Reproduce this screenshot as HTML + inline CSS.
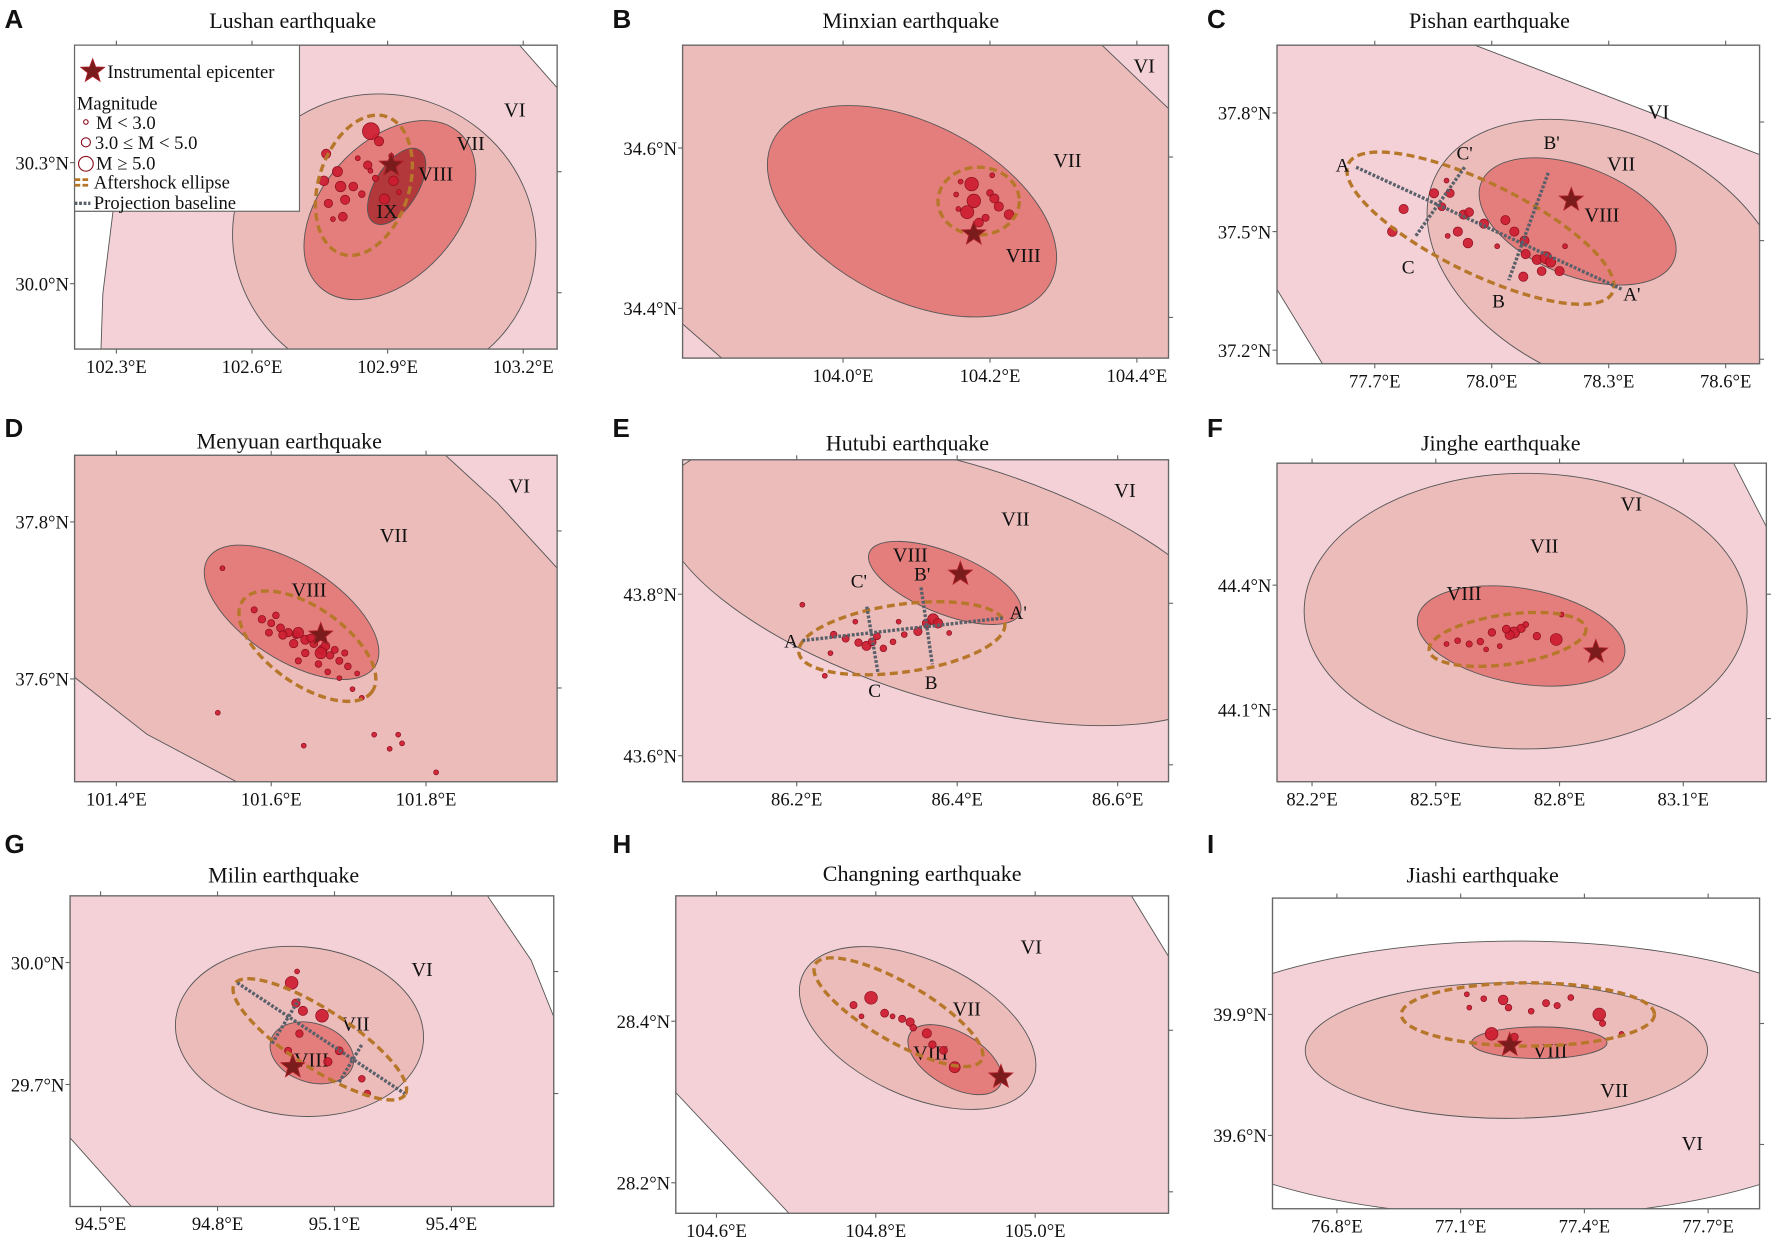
<!DOCTYPE html>
<html><head><meta charset="utf-8">
<style>
html,body{margin:0;padding:0;background:#fff;}
svg{display:block;}
text{font-family:"Liberation Serif",serif;fill:#111;}
.lbl{font-family:"Liberation Sans",sans-serif;font-weight:bold;font-size:23px;}
</style></head>
<body>
<svg id="fig" width="1772" height="1237" viewBox="0 0 1568 1095" preserveAspectRatio="none" xmlns="http://www.w3.org/2000/svg"></svg>
<script>
// ---------- data ----------
const lushanLon=[102.863,102.881,102.764,102.856,102.759,102.789,102.796,102.824,102.806,102.843,102.873,102.893,102.913,102.769,102.779,102.834,102.908,102.925,102.801,102.862];
const lushanLat=[30.378,30.353,30.322,30.294,30.255,30.278,30.241,30.241,30.208,30.222,30.261,30.210,30.255,30.199,30.160,30.311,30.317,30.227,30.166,30.280];
const lushanMag=[5.2,3.8,3.8,3.6,3.9,4.0,4.1,3.7,3.8,3.2,3.1,4.0,3.9,3.6,2.5,2.6,2.6,2.6,3.7,2.6];
const lushanStar=[102.908,30.294];

const minxianLon=[104.175,104.178,104.169,104.200,104.206,104.212,104.226,104.154,104.160,104.185,104.194,104.203,104.157];
const minxianLat=[34.555,34.534,34.520,34.544,34.537,34.527,34.517,34.542,34.558,34.507,34.513,34.566,34.524];
const minxianMag=[4.8,4.8,4.7,3.2,3.8,3.8,3.9,2.6,2.6,3.7,3.3,2.5,2.6];
const minxianStar=[104.178,34.493];

const pishanLon=[77.774,77.852,77.893,77.872,77.928,77.942,77.913,77.939,77.887,77.745,77.980,78.035,78.058,78.084,78.087,78.116,78.139,78.151,78.174,78.128,78.081,77.884,78.014,78.188];
const pishanLat=[37.557,37.597,37.597,37.563,37.543,37.549,37.500,37.471,37.489,37.500,37.520,37.529,37.500,37.477,37.443,37.429,37.434,37.423,37.400,37.400,37.386,37.629,37.463,37.463];
const pishanMag=[3.8,3.8,3.6,3.5,3.8,3.7,3.8,3.9,2.6,3.9,3.8,3.8,3.8,3.8,3.8,3.9,4.4,4.0,3.8,3.7,3.8,2.6,2.5,2.6];
const pishanStar=[78.204,37.580];

const menyuanLon=[101.588,101.600,101.612,101.622,101.632,101.644,101.655,101.666,101.676,101.688,101.699,101.711,101.578,101.606,101.629,101.651,101.670,101.682,101.635,101.661,101.615,101.688,101.705,101.717,101.644,101.673,101.695,101.597,101.664,101.635,101.531,101.642,101.733,101.764,101.769,101.753,101.813,101.537];
const menyuanLat=[37.676,37.671,37.665,37.659,37.656,37.650,37.645,37.637,37.630,37.623,37.616,37.607,37.688,37.681,37.645,37.652,37.642,37.637,37.623,37.619,37.656,37.601,37.587,37.576,37.633,37.609,37.633,37.659,37.633,37.659,37.557,37.515,37.529,37.529,37.518,37.511,37.481,37.741];
const menyuanMag=[3.4,3.3,3.5,3.6,3.4,3.8,3.5,3.9,3.4,3.3,3.2,2.9,3.1,3.2,3.6,3.5,3.7,3.3,3.1,3.2,3.6,2.8,2.7,2.8,3.4,3.0,3.1,3.3,4.3,4.1,2.7,2.6,2.7,2.6,2.6,2.6,2.6,2.6];
const menyuanStar=[101.664,37.656];

const hutubiLon=[86.246,86.261,86.277,86.287,86.294,86.300,86.308,86.320,86.351,86.362,86.370,86.376,86.334,86.242,86.235,86.207,86.273,86.327,86.390];
const hutubiLat=[43.750,43.745,43.740,43.736,43.741,43.748,43.733,43.741,43.754,43.764,43.769,43.764,43.750,43.727,43.699,43.787,43.766,43.766,43.752];
const hutubiMag=[3.2,3.3,3.4,3.8,3.5,3.3,3.2,3.0,3.6,3.7,4.2,3.9,3.0,2.7,2.6,2.6,2.7,2.7,2.6];
const hutubiStar=[86.404,43.825];

const jingheLon=[82.690,82.679,82.707,82.671,82.636,82.608,82.581,82.553,82.526,82.745,82.792,82.805,82.718,82.655,82.622];
const jingheLat=[44.286,44.280,44.296,44.294,44.286,44.264,44.258,44.266,44.258,44.277,44.269,44.329,44.305,44.253,44.245];
const jingheMag=[4.2,3.8,3.6,3.5,3.4,3.2,3.1,3.0,2.8,3.4,4.4,2.7,3.0,2.8,2.7];
const jingheStar=[82.888,44.239];

const milinLon=[94.990,95.068,95.001,95.019,95.010,95.112,95.083,94.981,95.170,95.184,95.004];
const milinLat=[29.950,29.869,29.900,29.881,29.825,29.783,29.756,29.783,29.714,29.678,29.978];
const milinMag=[4.6,4.6,3.6,3.8,3.4,3.5,3.6,3.3,3.2,3.2,2.6];
const milinStar=[94.993,29.744];

const changningLon=[104.794,104.772,104.811,104.833,104.843,104.864,104.871,104.885,104.899,104.847,104.821,104.782];
const changningLat=[28.429,28.420,28.410,28.403,28.399,28.385,28.371,28.364,28.343,28.392,28.406,28.406];
const changningMag=[4.6,3.3,3.5,3.3,3.6,3.8,3.4,3.5,4.2,3.2,2.8,2.7];
const changningStar=[104.957,28.331];

const jiashiLon=[77.175,77.230,77.115,77.156,77.203,77.216,77.271,77.307,77.334,77.436,77.444,77.490,77.121,77.367];
const jiashiLat=[39.852,39.844,39.950,39.939,39.936,39.917,39.908,39.928,39.922,39.900,39.878,39.852,39.917,39.942];
const jiashiMag=[4.6,3.5,2.8,3.0,3.9,3.2,3.0,3.3,3.1,4.6,3.1,2.7,2.8,3.0];
const jiashiStar=[77.219,39.824];

// tick values
const lushanXTicks=[102.3,102.6,102.9,103.2], lushanYTicks=[30.3,30.0];
const minxianXTicks=[104.0,104.2,104.4], minxianYTicks=[34.6,34.4];
const pishanXTicks=[77.7,78.0,78.3,78.6], pishanYTicks=[37.8,37.5,37.2];
const menyuanXTicks=[101.4,101.6,101.8], menyuanYTicks=[37.8,37.6];
const hutubiXTicks=[86.2,86.4,86.6], hutubiYTicks=[43.8,43.6];
const jingheXTicks=[82.2,82.5,82.8,83.1], jingheYTicks=[44.4,44.1];
const milinXTicks=[94.5,94.8,95.1,95.4], milinYTicks=[30.0,29.7];
const changningXTicks=[104.6,104.8,105.0], changningYTicks=[28.4,28.2];
const jiashiXTicks=[76.8,77.1,77.4,77.7], jiashiYTicks=[39.9,39.6];

// ---------- drawing ----------
const NS='http://www.w3.org/2000/svg';
const svg=document.getElementById('fig');
const C={VI:'#f3d1d7',VII:'#ecbcbb',VIII:'#e47e7d',IX:'#b3383b',white:'#ffffff'};
function mk(tag,attrs,parent){const e=document.createElementNS(NS,tag);for(const k in attrs)e.setAttribute(k,attrs[k]);(parent||svg).appendChild(e);return e;}
function txt(s,x,y,attrs,parent){const t=mk('text',Object.assign({x:x,y:y},attrs||{}),parent);t.textContent=s;return t;}
function magR(m){return m<3?2.2:(m<5?2.6+(m-3)*1.9:7.5);}
function starPath(cx,cy,R){let d='';for(let i=0;i<10;i++){const r=i%2?R*0.42:R;const a=-Math.PI/2+i*Math.PI/5;d+=(i?'L':'M')+(cx+r*Math.cos(a)).toFixed(1)+','+(cy+r*Math.sin(a)).toFixed(1);}return d+'Z';}

let pid=0;
function panel(p){
  pid++;
  const g=mk('g',{});
  
  
  const sx=v=>p.x0+(v-p.lon0)*p.kx, sy=v=>p.y0-(v-p.lat0)*p.ky;
  const b=p.box;
  const cp=mk('clipPath',{id:'clip'+pid},g);
  mk('rect',{x:b[0],y:b[1],width:b[2]-b[0],height:b[3]-b[1]},cp);
  const map=mk('g',{'clip-path':'url(#clip'+pid+')'},g);
  
  
  const bg=mk('rect',{x:b[0],y:b[1],width:b[2]-b[0],height:b[3]-b[1],fill:C[p.bg]},map);
  
  
  (p.polys||[]).forEach(q=>{
    const e=mk('polygon',{points:q.pts,fill:C[q.c],stroke:'#555','stroke-width':0.8},map);
    
    
  });
  (p.zones||[]).forEach(z=>{
    const e=mk('ellipse',{cx:z.cx,cy:z.cy,rx:z.rx,ry:z.ry,transform:'rotate('+(z.r||0)+' '+z.cx+' '+z.cy+')',fill:C[z.c],stroke:'#555','stroke-width':0.8},map);
    
    
  });
  (p.labels||[]).forEach(l=>{const t=txt(l[0],l[1],l[2],{'font-size':18},map);});
  for(let i=0;i<p.lon.length;i++){
    const c=mk('circle',{cx:sx(p.lon[i]),cy:sy(p.lat[i]),r:magR(p.mag[i]),fill:'#cc1c30',stroke:'#8a0f1e','stroke-width':0.6,'fill-opacity':0.92},map);
    
    
  }
  if(p.ell){const e=p.ell;const el=mk('ellipse',{cx:e.cx,cy:e.cy,rx:e.rx,ry:e.ry,transform:'rotate('+e.r+' '+e.cx+' '+e.cy+')',fill:'none',stroke:'#b7772a','stroke-width':3,'stroke-dasharray':'7 4'},map);
    }
  (p.lines||[]).forEach(l=>{const e=mk('line',{x1:l[0],y1:l[1],x2:l[2],y2:l[3],stroke:'#59606a','stroke-width':3,'stroke-dasharray':'2.5 1.5'},map);
    });
  (p.ptLabels||[]).forEach(l=>{const t=txt(l[0],l[1],l[2],{'font-size':17,'text-anchor':'middle'},map);});
  const st=mk('path',{d:starPath(sx(p.star[0]),sy(p.star[1]),11),fill:'#7a1b1c',stroke:'#b0202a','stroke-width':0.8},map);
  
  const fr=mk('rect',{x:b[0],y:b[1],width:b[2]-b[0],height:b[3]-b[1],fill:'none',stroke:'#666','stroke-width':1.2},g);
  
  p.xt.forEach(v=>{const x=sx(v);
    mk('line',{x1:x,y1:b[3],x2:x,y2:b[3]+4,stroke:'#666'},g);
    mk('line',{x1:x,y1:b[1],x2:x,y2:b[1]-4,stroke:'#666'},g);
    const t=txt(v.toFixed(1)+'°E',x,b[3]+21,{'font-size':16.5,'text-anchor':'middle'},g);
    });
  p.yt.forEach(v=>{const y=sy(v);
    mk('line',{x1:b[0],y1:y,x2:b[0]-4,y2:y,stroke:'#666'},g);
    mk('line',{x1:b[2],y1:y+8,x2:b[2]+4,y2:y+8,stroke:'#666'},g);
    const t=txt(v.toFixed(1)+'°N',b[0]-5,y+6,{'font-size':16.5,'text-anchor':'end'},g);
    });
  const ti=txt(p.title,p.tx,p.ty,{'font-size':19.5,'text-anchor':'middle'},g);
  
  const lb=txt(p.letter,p.lx,p.ly,{class:'lbl'},g);
  
}

panel({id:'lushan',letter:'A',lx:4,ly:25,title:'Lushan earthquake',tx:259,ty:25,box:[66,40,493,309],
  lon0:102.3,x0:103,kx:400,lat0:30.3,y0:144,ky:357,xt:lushanXTicks,yt:lushanYTicks,bg:'VI',
  polys:[{c:'white',pts:'66,320 89,320 91,260 100,187 66,187'},{c:'white',pts:'458,38 495,38 495,80'}],
  zones:[{c:'VII',cx:340,cy:212,rx:135,ry:128,r:20},{c:'VIII',cx:345,cy:186,rx:60,ry:92,r:42},{c:'IX',cx:351,cy:165,rx:19,ry:38,r:32}],
  labels:[['VI',446,103],['VII',404,133],['VIII',370,160],['IX',333,193]],
  lon:lushanLon,lat:lushanLat,mag:lushanMag,star:lushanStar,ell:{cx:322,cy:164,rx:40,ry:64,r:18}});

panel({id:'minxian',letter:'B',lx:542,ly:25,title:'Minxian earthquake',tx:806,ty:25,box:[604,40,1034,317],
  lon0:104.2,x0:876,kx:650,lat0:34.6,y0:131,ky:710,xt:minxianXTicks,yt:minxianYTicks,bg:'VII',
  polys:[{c:'VI',pts:'973,38 1036,38 1036,98'},{c:'VI',pts:'602,285 602,320 642,320'}],
  zones:[{c:'VIII',cx:807,cy:187,rx:138,ry:78,r:27}],
  labels:[['VI',1003,64],['VII',932,148],['VIII',890,232]],
  lon:minxianLon,lat:minxianLat,mag:minxianMag,star:minxianStar,ell:{cx:866,cy:178,rx:36,ry:30,r:0}});

panel({id:'pishan',letter:'C',lx:1068,ly:25,title:'Pishan earthquake',tx:1318,ty:25,box:[1130,40,1557,322],
  lon0:78.0,x0:1320,kx:345,lat0:37.5,y0:205,ky:350,xt:pishanXTicks,yt:pishanYTicks,bg:'VI',
  polys:[{c:'white',pts:'1300,38 1560,38 1560,138'},{c:'white',pts:'1128,253 1128,325 1172,325'}],
  zones:[{c:'VII',cx:1422,cy:228,rx:168,ry:110,r:25},{c:'VIII',cx:1396,cy:196,rx:92,ry:48,r:22}],
  labels:[['VI',1458,105],['VII',1422,151],['VIII',1402,196]],
  lon:pishanLon,lat:pishanLat,mag:pishanMag,star:pishanStar,ell:{cx:1310,cy:202,rx:130,ry:40,r:26},
  lines:[[1200,148,1435,256],[1296,148,1252,210],[1370,153,1335,248]],
  ptLabels:[['A',1188,152],["A'",1444,266],["B'",1373,132],['B',1326,272],["C'",1296,141],['C',1246,242]]});

panel({id:'menyuan',letter:'D',lx:4,ly:387,title:'Menyuan earthquake',tx:256,ty:397,box:[66,403,493,692],
  lon0:101.6,x0:240,kx:685,lat0:37.6,y0:601,ky:695,xt:menyuanXTicks,yt:menyuanYTicks,bg:'VII',
  polys:[{c:'VI',pts:'392,401 495,401 495,505 440,445'},{c:'VI',pts:'64,598 64,695 215,695 130,650'}],
  zones:[{c:'VIII',cx:258,cy:542,rx:88,ry:42,r:33}],
  labels:[['VI',450,436],['VII',336,480],['VIII',258,528]],
  lon:menyuanLon,lat:menyuanLat,mag:menyuanMag,star:menyuanStar,ell:{cx:272,cy:572,rx:70,ry:34,r:35}});

panel({id:'hutubi',letter:'E',lx:542,ly:387,title:'Hutubi earthquake',tx:803,ty:399,box:[604,407,1034,692],
  lon0:86.4,x0:847,kx:710,lat0:43.8,y0:526,ky:715,xt:hutubiXTicks,yt:hutubiYTicks,bg:'VI',
  zones:[{c:'VII',cx:842,cy:515,rx:268,ry:105,r:17},{c:'VIII',cx:836,cy:516,rx:72,ry:27,r:22}],
  labels:[['VI',986,440],['VII',886,465],['VIII',790,497]],
  lon:hutubiLon,lat:hutubiLat,mag:hutubiMag,star:hutubiStar,ell:{cx:798,cy:565,rx:92,ry:30,r:-8},
  lines:[[710,567,888,547],[767,537,777,596],[815,520,825,588]],
  ptLabels:[['A',700,573],["A'",901,548],['B',824,610],["B'",816,514],['C',774,617],["C'",760,520]]});

panel({id:'jinghe',letter:'F',lx:1068,ly:387,title:'Jinghe earthquake',tx:1328,ty:399,box:[1130,410,1563,692],
  lon0:82.8,x0:1380,kx:365,lat0:44.4,y0:518,ky:367,xt:jingheXTicks,yt:jingheYTicks,bg:'VI',
  polys:[{c:'white',pts:'1533,408 1566,408 1566,472'}],
  zones:[{c:'VII',cx:1350,cy:541,rx:196,ry:122,r:0},{c:'VIII',cx:1346,cy:563,rx:93,ry:42,r:10}],
  labels:[['VI',1434,452],['VII',1354,489],['VIII',1280,531]],
  lon:jingheLon,lat:jingheLat,mag:jingheMag,star:jingheStar,ell:{cx:1334,cy:566,rx:70,ry:22,r:-8}});

panel({id:'milin',letter:'G',lx:4,ly:755,title:'Milin earthquake',tx:251,ty:781,box:[62,793,490,1068],
  lon0:95.1,x0:296,kx:345,lat0:30.0,y0:852,ky:360,xt:milinXTicks,yt:milinYTicks,bg:'VI',
  polys:[{c:'white',pts:'430,791 492,791 492,905 470,850'},{c:'white',pts:'60,1005 60,1070 118,1070'}],
  zones:[{c:'VII',cx:265,cy:913,rx:110,ry:75,r:5},{c:'VIII',cx:276,cy:932,rx:38,ry:26,r:18}],
  labels:[['VI',364,864],['VII',302,912],['VIII',260,944]],
  lon:milinLon,lat:milinLat,mag:milinMag,star:milinStar,ell:{cx:283,cy:920,rx:90,ry:26,r:33},
  lines:[[210,870,358,968],[265,884,240,925],[320,925,300,958]]});

panel({id:'changning',letter:'H',lx:542,ly:755,title:'Changning earthquake',tx:816,ty:780,box:[598,793,1034,1074],
  lon0:104.8,x0:775,kx:705,lat0:28.4,y0:904,ky:715,xt:changningXTicks,yt:changningYTicks,bg:'VI',
  polys:[{c:'white',pts:'1000,791 1036,791 1036,850'},{c:'white',pts:'596,965 596,1076 700,1076'}],
  zones:[{c:'VII',cx:812,cy:910,rx:112,ry:60,r:25},{c:'VIII',cx:845,cy:938,rx:46,ry:24,r:30}],
  labels:[['VI',903,844],['VII',843,899],['VIII',808,938]],
  lon:changningLon,lat:changningLat,mag:changningMag,star:changningStar,ell:{cx:795,cy:896,rx:85,ry:26,r:30}});

panel({id:'jiashi',letter:'I',lx:1068,ly:755,title:'Jiashi earthquake',tx:1312,ty:781,box:[1126,795,1557,1070],
  lon0:77.4,x0:1402,kx:365,lat0:39.9,y0:898,ky:357,xt:jiashiXTicks,yt:jiashiYTicks,bg:'white',
  zones:[{c:'VI',cx:1342,cy:955,rx:335,ry:122,r:0},{c:'VII',cx:1333,cy:930,rx:178,ry:60,r:0},{c:'VIII',cx:1362,cy:923,rx:60,ry:14,r:0}],
  labels:[['VI',1488,1018],['VII',1416,971],['VIII',1356,936]],
  lon:jiashiLon,lat:jiashiLat,mag:jiashiMag,star:jiashiStar,ell:{cx:1352,cy:898,rx:112,ry:28,r:0}});

// ---------- legend (panel A) ----------
const lg=mk('g',{});


mk('rect',{x:66,y:40,width:199,height:147,fill:'#fff',stroke:'#666','stroke-width':1},lg);
mk('path',{d:starPath(82,63,11),fill:'#7a1b1c',stroke:'#b0202a','stroke-width':0.8},lg);
txt('Instrumental epicenter',95,69,{'font-size':16.5},lg);
txt('Magnitude',68,97,{'font-size':16.5},lg);
mk('circle',{cx:76,cy:108,r:2,fill:'none',stroke:'#8a0f1e'},lg);
txt('M < 3.0',85,114,{'font-size':16.5},lg);
mk('circle',{cx:76,cy:126,r:4,fill:'none',stroke:'#8a0f1e'},lg);
txt('3.0 ≤ M < 5.0',84,132,{'font-size':16.5},lg);
mk('circle',{cx:76,cy:145,r:6.5,fill:'none',stroke:'#8a0f1e'},lg);
txt('M ≥ 5.0',85,150,{'font-size':16.5},lg);
mk('line',{x1:66,y1:159,x2:80,y2:159,stroke:'#b7772a','stroke-width':2.5,'stroke-dasharray':'5 2'},lg);
mk('line',{x1:66,y1:164,x2:80,y2:164,stroke:'#b7772a','stroke-width':2.5,'stroke-dasharray':'5 2'},lg);
txt('Aftershock ellipse',83,167,{'font-size':16.5},lg);
mk('line',{x1:66,y1:180,x2:80,y2:180,stroke:'#59606a','stroke-width':3,'stroke-dasharray':'2.5 1.5'},lg);
txt('Projection baseline',83,185,{'font-size':16.5},lg);
</script>
</body></html>
